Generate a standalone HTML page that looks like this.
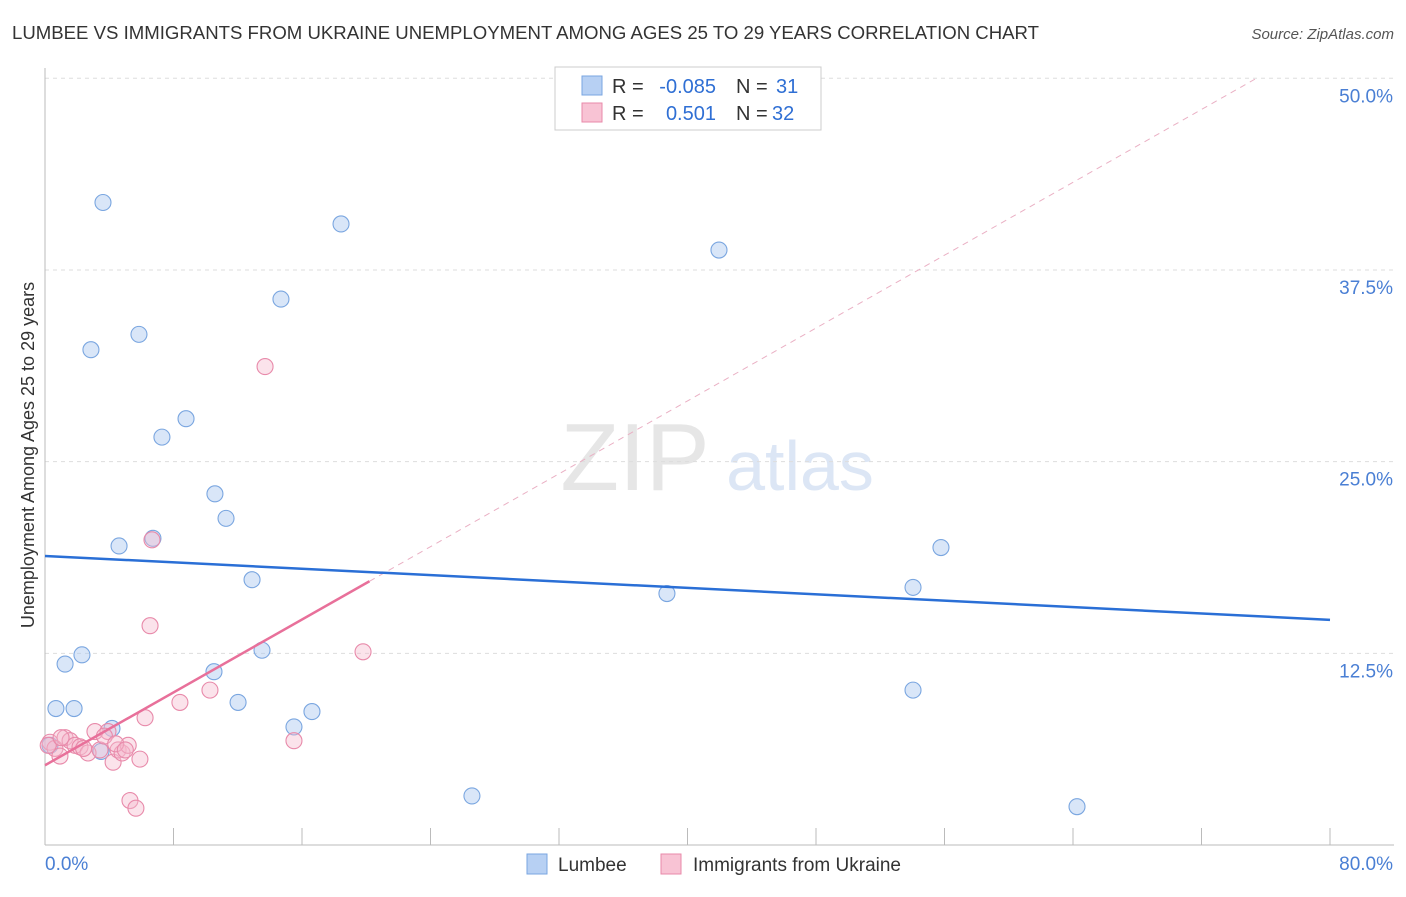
<!DOCTYPE html>
<html><head><meta charset="utf-8">
<style>
body{margin:0;background:#fff;font-family:"Liberation Sans",sans-serif;}
svg text{font-family:"Liberation Sans",sans-serif;}
</style></head>
<body>
<svg id="chart" width="1406" height="892" xmlns="http://www.w3.org/2000/svg">
<text x="12" y="39" font-size="18.6" fill="#333">LUMBEE VS IMMIGRANTS FROM UKRAINE UNEMPLOYMENT AMONG AGES 25 TO 29 YEARS CORRELATION CHART</text>
<text x="1394" y="39" font-size="15" fill="#555" font-style="italic" text-anchor="end">Source: ZipAtlas.com</text>
<g>
<text x="635" y="490" font-size="96" fill="#e6e6e6" text-anchor="middle" font-family="Liberation Serif">ZIP</text>
<text x="800" y="490" font-size="70" fill="#dce6f5" text-anchor="middle">atlas</text>
</g>
<g id="grid"></g>
<g id="axes"></g>
<g id="lines"></g>
<g id="points"></g>
<text transform="translate(34,455) rotate(-90)" font-size="18" fill="#333" text-anchor="middle">Unemployment Among Ages 25 to 29 years</text>
<g>
<rect x="555" y="67" width="266" height="63" fill="#fff" stroke="#ccc"/>
<rect x="582" y="76" width="20" height="19" fill="#b7d0f3" stroke="#7aa6e0"/>
<rect x="582" y="103" width="20" height="19" fill="#f8c3d4" stroke="#e88aaa"/>
<text x="612" y="93" font-size="20" fill="#333">R =</text>
<text x="716" y="93" font-size="20" fill="#2f6fd4" text-anchor="end">-0.085</text>
<text x="736" y="93" font-size="20" fill="#333">N =</text>
<text x="776" y="93" font-size="20" fill="#2f6fd4">31</text>
<text x="612" y="120" font-size="20" fill="#333">R =</text>
<text x="716" y="120" font-size="20" fill="#2f6fd4" text-anchor="end">0.501</text>
<text x="736" y="120" font-size="20" fill="#333">N =</text>
<text x="772" y="120" font-size="20" fill="#2f6fd4">32</text>
</g>
<g>
<rect x="527" y="854" width="20" height="20" fill="#b7d0f3" stroke="#7aa6e0"/>
<text x="558" y="871" font-size="19" fill="#333">Lumbee</text>
<rect x="661" y="854" width="20" height="20" fill="#f8c3d4" stroke="#e88aaa"/>
<text x="693" y="871" font-size="19" fill="#333">Immigrants from Ukraine</text>
</g>
</svg>
<script>
const yTicks=[12.5,25,37.5,50];
const yTickLabels=["12.5%","25.0%","37.5%","50.0%"];
const xTicks=[0,8,16,24,32,40,48,56,64,72,80];
const lumbeeX=[3.61,18.43,41.96,14.69,5.85,2.86,8.78,7.28,10.58,11.27,6.72,4.61,55.78,12.89,54.04,38.72,13.51,2.30,1.25,10.52,54.04,0.68,1.81,12.02,16.62,15.50,4.17,3.49,26.58,64.25,0.31];
const lumbeeY=[41.9,40.5,38.8,35.6,33.3,32.3,27.8,26.6,22.9,21.3,20.0,19.5,19.4,17.3,16.8,16.4,12.7,12.4,11.8,11.3,10.1,8.9,8.9,9.3,8.7,7.7,7.6,6.1,3.2,2.5,6.5];
const ukraineX=[13.70,6.66,6.54,19.80,10.27,8.40,6.23,15.50,0.31,0.62,0.93,1.25,1.56,1.87,2.18,2.68,3.11,3.42,3.92,4.24,4.55,4.80,5.18,5.91,5.29,5.66,0.2,1.0,2.4,3.7,4.4,5.0];
const ukraineY=[31.2,19.9,14.3,12.6,10.1,9.3,8.3,6.8,6.7,6.3,5.8,7.0,6.8,6.5,6.4,6.0,7.4,6.2,7.4,5.4,6.2,6.0,6.5,5.6,2.9,2.4,6.5,7.0,6.3,7.1,6.6,6.2];
const lumbeeTrend=[18.85,-0.0521];
const ukraineTrend=[5.2,0.594];
const ukraineSolidEnd=20.2;
const X=v=>45+v/80*1285, Y=v=>845-v/50*766.7;
const NS="http://www.w3.org/2000/svg";
function mk(p,t,a){const e=document.createElementNS(NS,t);for(const k in a)e.setAttribute(k,a[k]);p.appendChild(e);return e;}
const grid=document.getElementById('grid'),axes=document.getElementById('axes'),lines=document.getElementById('lines'),pts=document.getElementById('points');
yTicks.forEach((t,i)=>{
 const l=mk(grid,'line',{x1:45,x2:1394,y1:Y(t),y2:Y(t),stroke:'#ddd','stroke-dasharray':'4,4'});
 
 
 const tx=mk(axes,'text',{x:1393,y:Y(t)+24,'font-size':19,fill:'#4a7fd4','text-anchor':'end'});
 tx.textContent=yTickLabels[i];
 
 
});
let a=mk(axes,'line',{x1:45,x2:45,y1:68,y2:845,stroke:'#bbb'});


a=mk(axes,'line',{x1:45,x2:1394,y1:845,y2:845,stroke:'#bbb'});


xTicks.forEach(t=>{
 const l=mk(axes,'line',{x1:X(t),x2:X(t),y1:828,y2:845,stroke:'#bbb'});
 
 
});
let t0=mk(axes,'text',{x:45,y:870,'font-size':19,fill:'#4a7fd4'});t0.textContent='0.0%';


let t1=mk(axes,'text',{x:1393,y:870,'font-size':19,fill:'#4a7fd4','text-anchor':'end'});t1.textContent='80.0%';


const xEnd=(50-ukraineTrend[0])/ukraineTrend[1];
let d=mk(lines,'line',{x1:X(ukraineSolidEnd),y1:Y(ukraineTrend[0]+ukraineTrend[1]*ukraineSolidEnd),x2:X(xEnd),y2:Y(50),stroke:'#eab0c4','stroke-width':1,'stroke-dasharray':'6,5'});


lumbeeX.forEach((x,i)=>{
 const c=mk(pts,'circle',{cx:X(x),cy:Y(lumbeeY[i]),r:8,fill:'rgba(170,200,240,0.45)',stroke:'#7aa6e0','stroke-width':1.1});
 
 
});
ukraineX.forEach((x,i)=>{
 const c=mk(pts,'circle',{cx:X(x),cy:Y(ukraineY[i]),r:8,fill:'rgba(245,184,204,0.4)',stroke:'#e88aaa','stroke-width':1.1});
 
 
});
let bl=mk(pts,'line',{x1:X(0),y1:Y(lumbeeTrend[0]),x2:X(80),y2:Y(lumbeeTrend[0]+lumbeeTrend[1]*80),stroke:'#2a6fd6','stroke-width':2.5});


let pl=mk(pts,'line',{x1:X(0),y1:Y(ukraineTrend[0]),x2:X(ukraineSolidEnd),y2:Y(ukraineTrend[0]+ukraineTrend[1]*ukraineSolidEnd),stroke:'#e8709a','stroke-width':2.5});


</script>
</body></html>
